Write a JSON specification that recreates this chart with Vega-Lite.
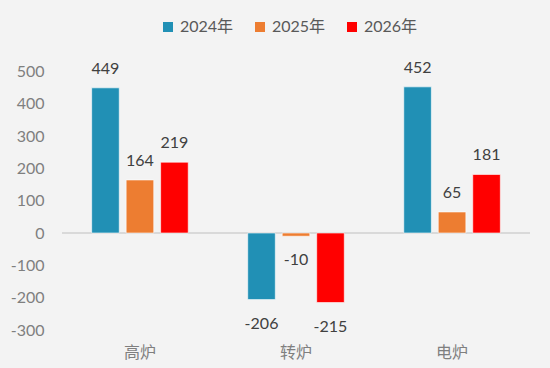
{
  "$schema": "https://vega.github.io/schema/vega-lite/v6.json",
  "autosize": "none",
  "width": 468,
  "height": 291,
  "padding": {"left": 62, "top": 39, "right": 20, "bottom": 38},
  "background": "#F3F3F3",
  "config": {"view": {"stroke": null}, "font": "Lato, Noto Sans CJK SC"},
  "data": {"values": [
    {"cat": "高炉", "year": "2024年", "v": 449},
    {"cat": "高炉", "year": "2025年", "v": 164},
    {"cat": "高炉", "year": "2026年", "v": 219},
    {"cat": "转炉", "year": "2024年", "v": -206},
    {"cat": "转炉", "year": "2025年", "v": -10},
    {"cat": "转炉", "year": "2026年", "v": -215},
    {"cat": "电炉", "year": "2024年", "v": 452},
    {"cat": "电炉", "year": "2025年", "v": 65},
    {"cat": "电炉", "year": "2026年", "v": 181}
  ]},
  "encoding": {
    "x": {"field": "cat", "type": "nominal", "sort": ["高炉", "转炉", "电炉"],
      "scale": {"paddingInner": 0.337, "paddingOuter": 0.168},
      "axis": {"title": null, "domain": false, "ticks": false, "labelAngle": 0, "labelPadding": 14,
        "labelFontSize": 16, "labelColor": "#7F7F7F", "labelFont": "Noto Sans CJK SC"}},
    "xOffset": {"field": "year", "type": "nominal", "scale": {"paddingInner": 0.2, "paddingOuter": 0.1}},
    "y": {"field": "v", "type": "quantitative", "scale": {"domain": [-300, 600], "nice": false},
      "axis": {"title": null, "domain": false, "ticks": false, "grid": false, "labelPadding": 18,
        "values": [-300, -200, -100, 0, 100, 200, 300, 400, 500],
        "labelExpr": "replace(datum.label, '−', '-')",
        "labelFontSize": 16, "labelColor": "#7F7F7F"}}
  },
  "layer": [
    {"mark": {"type": "rule", "color": "#D9D9D9", "strokeWidth": 1.5},
     "encoding": {"y": {"datum": 0}, "x": null, "xOffset": null}},
    {"mark": {"type": "bar", "stroke": "#FFFFFF", "strokeWidth": 0.6},
     "encoding": {"color": {"field": "year", "type": "nominal",
        "scale": {"domain": ["2024年", "2025年", "2026年"], "range": ["#2190B5", "#ED7D31", "#FF0000"]},
        "legend": {"title": null, "orient": "none", "legendX": 98, "legendY": -20, "direction": "horizontal",
          "symbolType": "square", "symbolSize": 100, "symbolStrokeWidth": 0, "labelFontSize": 16,
          "labelColor": "#595959", "labelOffset": 4, "columnPadding": 18}}}},
    {"transform": [{"filter": "datum.v >= 0"}],
     "mark": {"type": "text", "baseline": "middle", "dy": -19, "fontSize": 16, "color": "#404040"},
     "encoding": {"text": {"field": "v", "type": "nominal"}}},
    {"transform": [{"filter": "datum.v < 0"}],
     "mark": {"type": "text", "baseline": "middle", "dy": 24, "fontSize": 16, "color": "#404040"},
     "encoding": {"text": {"field": "v", "type": "nominal"}}}
  ]
}
